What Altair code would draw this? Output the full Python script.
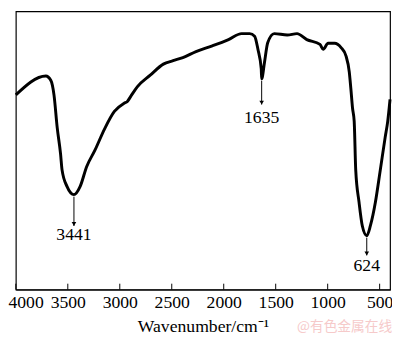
import altair as alt
import pandas as pd

# Spectrum (wavenumber in cm^-1, relative transmittance)
wavenumber = [4000, 3711, 3664, 3633, 3602, 3570, 3555, 3508, 3441, 3381, 3319, 3240,
              3146, 3052, 2958, 2927, 2896, 2832, 2707, 2581, 2487, 2393, 2267, 2110,
              1954, 1828, 1750, 1703, 1671, 1639, 1635, 1608, 1577, 1514, 1389, 1295,
              1201, 1074, 1043, 996, 933, 871, 824, 792, 777, 761, 745, 730, 698, 667,
              624, 589, 541, 494, 447, 422, 400]
transmittance = [68.3, 74.9, 73.4, 68.3, 56.8, 47.7, 41.9, 36.2, 33.3, 36.2, 43.1, 48.8,
                 56.4, 62.5, 65.4, 66.0, 67.7, 71.1, 75.2, 79.1, 80.3, 81.4, 83.5, 85.5,
                 87.7, 89.8, 89.8, 88.9, 84.3, 77.4, 73.9, 79.7, 86.6, 89.8, 89.3, 89.8,
                 87.7, 86.0, 84.3, 86.4, 86.4, 84.9, 82.0, 76.3, 70.5, 63.7, 59.1, 41.9,
                 30.6, 22.4, 18.9, 22.4, 30.6, 41.9, 53.4, 59.1, 66.7]

# Peak annotations
peak_wn = [3441, 1635, 624]
peak_label = ["3441", "1635", "624"]
arrow_top = [32.6, 73.2, 18.2]
arrow_bottom = [22.3, 64.9, 12.0]
label_pos = [17.3, 58.5, 6.5]

tick_values = [4000, 3500, 3000, 2500, 2000, 1500, 1000, 500]

W, H = 382, 284
FONT = "Liberation Serif"

spec = pd.DataFrame({"wn": wavenumber, "t": transmittance})
peaks = pd.DataFrame({"wn": peak_wn, "label": peak_label, "a1": arrow_top,
                      "a2": arrow_bottom, "lp": label_pos})
ticks = pd.DataFrame({"wn": tick_values})

xscale = alt.Scale(domain=[4000, 400], nice=False, zero=False)
yscale = alt.Scale(domain=[0, 97.6], nice=False, zero=False)

xaxis = alt.Axis(values=tick_values, format="d", tickSize=0, grid=False, domainColor="black",
                 domainWidth=1, labelFont=FONT, labelFontSize=18, labelColor="black",
                 labelPadding=4, labelFlush=True, labelFlushOffset=8, labelOverlap=False,
                 title="Wavenumber/cm⁻¹", titleFont=FONT, titleFontSize=18,
                 titleFontWeight="normal", titleColor="black", titlePadding=7)

line = alt.Chart(spec).mark_line(color="black", strokeWidth=3, interpolate="monotone").encode(
    x=alt.X("wn:Q", scale=xscale, axis=xaxis),
    y=alt.Y("t:Q", scale=yscale, axis=None),
)

tickmarks = alt.Chart(ticks).mark_rule(color="black", strokeWidth=1).encode(
    x=alt.X("wn:Q", scale=xscale),
    y=alt.value(H),
    y2=alt.value(H - 6),
)

arrows = alt.Chart(peaks).mark_rule(color="black", strokeWidth=1).encode(
    x=alt.X("wn:Q", scale=xscale),
    y=alt.Y("a1:Q", scale=yscale),
    y2="a2:Q",
)

heads = alt.Chart(peaks).mark_point(shape="triangle-down", filled=True, color="black",
                                     size=22, opacity=1, yOffset=-2).encode(
    x=alt.X("wn:Q", scale=xscale),
    y=alt.Y("a2:Q", scale=yscale),
)

labels = alt.Chart(peaks).mark_text(font=FONT, fontSize=18, color="black",
                                     baseline="alphabetic", align="center").encode(
    x=alt.X("wn:Q", scale=xscale),
    y=alt.Y("lp:Q", scale=yscale),
    text="label:N",
)

watermark = alt.Chart(pd.DataFrame({"t": ["@有色金属在线"]})).mark_text(
    font="Noto Sans CJK SC", fontSize=14, color="#f6caca", align="left",
    baseline="alphabetic").encode(
    x=alt.value(287), y=alt.value(326), text="t:N")

chart = alt.layer(line, tickmarks, arrows, heads, labels, watermark).properties(
    width=W, height=H,
    autosize=alt.AutoSizeParams(type="none"),
    padding={"left": 8, "top": 0, "right": 2, "bottom": 46},
).configure_view(stroke="black", strokeWidth=1.2)

chart.save("out.html", embed_options={"renderer": "svg", "actions": False})
